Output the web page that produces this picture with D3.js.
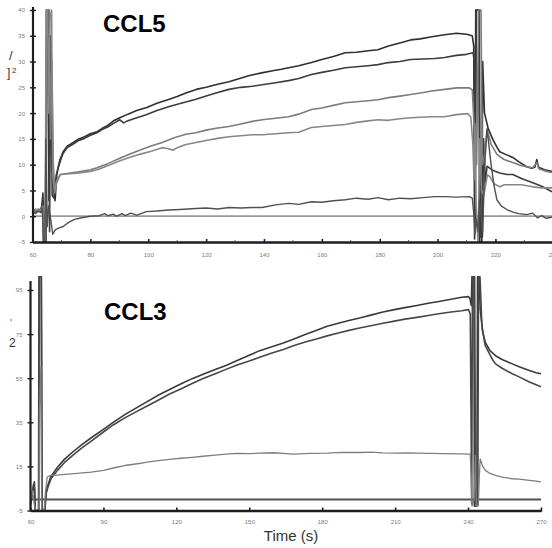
<!DOCTYPE html>
<html>
<head>
<meta charset="utf-8">
<script src="https://cdn.jsdelivr.net/npm/d3@7"></script>
<style>
  body { margin: 0; background: #fff; }
  svg { display: block; font-family: "Liberation Sans", Arial, sans-serif; }
</style>
</head>
<body>
<svg id="chart" width="552" height="548"></svg>
<script>
// ---- Axis ticks ----
const ccl5TimeTicks = [60, 80, 100, 120, 140, 160, 180, 200, 220, 240];
const ccl5MinorTicks = [70, 90, 110, 130, 150, 170, 190, 210, 230];
const ccl5RespTicks = [-5, 0, 5, 10, 15, 20, 25, 30, 35, 40];
const ccl3TimeTicks = [60, 90, 120, 150, 180, 210, 240, 270];
const ccl3RespTicks = [-5, 15, 35, 55, 75, 95];

// ---- CCL5 sensorgrams: [time (s), response] ----
const ccl5A = [[60,1.0],[61,1.2],[62,0.9],[63,1.5],[63.5,2.5],[63.8,-5],[64.6,-5],[64.9,40],[65.4,40],[65.7,3],[66.2,35],[66.6,12],[67.2,6],[67.8,3],[68.4,8],[68.9,9.6],[69.5,11],[70.6,12.5],[72,13.6],[74.1,14.3],[76,15],[78,15.4],[80,16],[82.3,16.4],[84,17],[86,17.6],[88,18.5],[90.2,19.1],[93,19.8],[96,20.5],[99.5,21.1],[103,21.9],[107.3,22.7],[110,23.2],[113,23.9],[116.6,24.6],[120,25],[124,25.6],[127.9,26.1],[131,26.6],[135,27.3],[139.2,27.8],[143,28.2],[146,28.5],[148.5,28.8],[152,29.2],[156.4,29.8],[160,30.4],[164,31],[168.1,31.7],[172,31.8],[176,32.1],[179.4,32.3],[183,33],[187,33.6],[190.7,34.2],[194,34.4],[198,34.8],[202.4,35.2],[206.5,35.5],[210,35.3],[212,35.0],[212.5,33],[212.8,-4.4],[213.2,40],[214.2,40],[214.6,-5],[215.3,-5],[215.6,30],[216.2,20.1],[217.5,17],[219.1,14.9],[220.5,13.4],[221.5,12.5],[223.5,12],[226,11.4],[228,10.6],[230.8,9.6],[232.5,9.3],[233.6,9.5],[234.3,11.0],[234.8,9.6],[235.3,9.4],[237,9.0],[239.4,8.7],[241,8.6]];

const ccl5B = [[60,0.6],[61,0.8],[62,1.1],[63,0.7],[63.6,4.5],[63.9,0],[64.3,-5],[64.7,-5],[65.0,40],[65.5,40],[65.9,-3],[66.3,34],[66.8,4],[67.4,3.5],[68.2,8],[68.9,9.4],[69.8,11],[70.6,12.2],[72,13.3],[74.1,14],[76,14.7],[78,15.1],[80,15.7],[82.3,16.2],[84,16.8],[86,17.3],[88,18.0],[90.2,18.7],[91.5,18.1],[92.5,18.4],[95,18.9],[99.3,19.7],[103,20.5],[107.3,21.3],[112,22.0],[116.5,22.7],[120,23.3],[124,24.0],[127.9,24.6],[132,25.0],[136,25.2],[139.4,25.5],[144,25.9],[148.5,26.3],[152,26.7],[156.4,27.5],[160,27.9],[164,28.3],[168.1,28.8],[172,29.0],[176,29.2],[179.4,29.4],[183,29.8],[187,30.0],[190.7,30.4],[195,30.5],[199,30.6],[202.4,30.8],[206.5,31.2],[210,31.4],[212.3,31.7],[212.7,30],[213.0,-3],[213.4,40],[214.4,40],[214.8,-4],[215.5,-4],[215.9,15],[216.5,6.5],[217.1,9.7],[219,8.9],[221.5,8.4],[224,8.1],[226,8.1],[229,7.3],[232.9,6.5],[236,5.8],[239.4,4.8],[241,4.6]];

const ccl5C = [[60,1.3],[61,1.0],[62,1.4],[63,1.2],[63.7,2],[64.0,-5],[64.5,-5],[64.8,40],[65.8,40],[66.2,15],[66.7,30],[67.2,10],[67.7,4.5],[68.4,6.5],[69.6,8.1],[72,8.3],[76,8.6],[80,9.0],[82.3,9.4],[86,10.2],[90,11.2],[93.5,12.0],[97,12.8],[101,13.6],[104.8,14.3],[109,15.2],[113,15.9],[116.5,16.2],[120,16.7],[124,17.1],[127.9,17.4],[132,17.9],[136,18.4],[139.4,18.7],[144,19.0],[148.5,19.3],[152,19.8],[156.4,20.7],[160,21],[164,21.5],[168.1,22.0],[172,22.2],[176,22.4],[179.4,22.6],[183,23],[187,23.3],[190.7,23.6],[194,23.9],[198,24.3],[202.4,24.6],[206.5,24.9],[211,24.9],[212,24.5],[212.6,18],[213.5,10],[214.2,40],[215.0,40],[215.5,10],[216.3,12],[217.1,16.8],[218.5,14],[220.5,12],[223,11],[226,10.4],[229,9.8],[232.9,9.4],[234.3,10.4],[235,9.2],[237,8.8],[239.4,8.5],[241,8.4]];

const ccl5D = [[60,0.8],[61,1.4],[62,1.0],[63,1.3],[63.5,0.5],[63.9,-5],[64.4,-5],[64.7,40],[65.2,40],[65.6,20],[66,38],[66.6,40],[67,8],[67.6,5],[68.4,7],[69.6,8.1],[72,8.2],[76,8.4],[80,8.7],[82.3,9.0],[86,9.8],[90,10.7],[93.5,11.4],[97,12],[101,12.6],[104.8,13.3],[107,13.1],[108.5,12.8],[110,13.3],[113,13.9],[116.5,14.3],[120,14.7],[124,15.1],[127.9,15.4],[132,15.6],[136,15.8],[139.4,15.8],[144,16.0],[148.5,16.2],[152,16.3],[156.4,17.2],[160,17.4],[164,17.6],[168.1,17.8],[172,18.2],[176,18.5],[179.4,18.7],[183,18.6],[187,18.9],[190.7,19.1],[194,19.2],[198,19.3],[202.4,19.3],[206.5,19.7],[210.5,19.9],[211.5,19.2],[212.2,14],[212.6,7],[212.9,18],[213.3,2],[214,-5],[214.6,15],[215.2,5],[216,4],[217.2,8],[218.1,7.7],[219.5,6.3],[221.5,5.7],[223,6.1],[226,6.1],[229,6.1],[232.9,5.7],[236,5.5],[239.4,5.5],[241,5.4]];

const ccl5E = [[60,1.1],[61,0.5],[62,1.0],[63,0.8],[63.4,1.5],[63.8,-5],[64.3,-5],[64.6,15],[65.1,-2],[65.6,2],[66.4,-1],[67.0,-3.5],[67.9,-2.6],[69,-2.3],[70.6,-2.0],[72.5,-1.2],[74.5,-0.6],[77,-0.3],[80,0],[83,0.1],[85,0.5],[86,0.1],[88,0.4],[89,0],[91,0.5],[92,0.1],[94,0.6],[96,0.2],[98,0.6],[99.3,0.9],[103,1.0],[107,1.2],[111,1.3],[116.5,1.5],[120,1.6],[124,1.4],[128,1.7],[132,1.6],[136,1.7],[139.4,1.7],[144,2.2],[148.5,2.5],[152,2.3],[156.4,2.8],[160,2.7],[164,3.0],[168.1,3.2],[172,3.5],[176,3.3],[179.4,3.6],[183,3.2],[187,3.5],[190.7,3.4],[195,3.6],[199,3.8],[202.4,3.8],[206.5,3.7],[211,3.8],[212,3.5],[212.6,0],[212.9,-3.5],[213.3,-0.5],[213.9,-3],[214.5,3],[215.2,-1],[215.6,-3],[216.3,10],[217.1,17],[218.5,10],[219.5,6],[220.5,3.2],[222,2],[223.9,1.3],[226,0.8],[228,0.5],[230.8,0.3],[232.9,0.6],[234.5,-0.3],[236,0.1],[237.5,-0.4],[239.4,-0.2],[241,-0.3]];

// ---- CCL3 sensorgrams: [time (s), response] ----
const ccl3A = [[60,-2],[60.6,2],[61.2,6],[61.6,8],[61.9,-5],[63.3,-5],[63.5,101],[64.4,101],[64.7,-5],[65.8,-5],[66.3,2],[66.9,5.7],[68.3,10.2],[71.1,14.6],[74,18.3],[78,22.1],[81,24.8],[85,28],[90,31.8],[94,35],[98.8,38.5],[103,41.2],[108,44.4],[112.7,47.4],[117,49.8],[122,52.5],[126.5,54.8],[131,56.8],[136,58.9],[140.4,60.8],[145,63],[150,65.4],[154.3,67.5],[159,69.2],[164,71],[168.1,72.7],[173,74.8],[178,76.9],[182,78.6],[187,80],[191,81.2],[195.8,82.4],[200,83.6],[205,85],[209.7,86.1],[214,87],[219,88],[223.6,89],[228,89.8],[233,90.8],[237.4,91.7],[240.2,92],[240.8,91],[241.3,88],[241.6,101],[242.4,101],[242.6,-3],[243.6,-3],[243.9,101],[244.5,101],[245,86.1],[246,76],[247.1,71.2],[249,67.5],[251.3,65.2],[254,63.5],[258.2,61.5],[261,60.2],[265.2,58.5],[268,57.5],[270,57]];

const ccl3B = [[60,-3],[60.7,3],[61.3,7],[61.7,5],[62.0,-5],[63.4,-5],[63.6,101],[64.5,101],[64.8,-5],[65.9,-5],[66.5,3],[67.3,6],[68.5,9.5],[71.1,13.2],[74,16.8],[78,20.6],[81,23.3],[85,26.5],[90,30.6],[94,33.8],[98.8,37],[103,39.5],[108,42.4],[112.7,45.1],[117,47.7],[122,50.2],[126.5,52.6],[131,54.9],[136,57],[140.4,59],[145,61],[150,62.8],[154.3,64.5],[159,66.3],[164,68],[168.1,69.7],[173,71.4],[178,72.9],[182,74.2],[187,75.6],[191,76.7],[195.8,77.9],[200,78.8],[205,79.9],[209.7,80.9],[214,81.8],[219,82.6],[223.6,83.4],[228,84.2],[233,85],[237.4,85.6],[240.2,86.1],[240.9,84],[241.5,-2],[241.8,101],[242.7,101],[243.1,-2],[244.0,-2],[244.3,101],[244.9,101],[245.7,78.6],[247,70],[248.5,66.7],[250,63.5],[251.3,61.5],[254,59.5],[258.2,57],[261,55.6],[265.2,53.3],[268,52],[270,51.1]];

const ccl3C = [[60,0],[60.8,4],[61.2,1],[61.8,-4],[62.2,-5],[63.5,-5],[63.7,40],[64.3,60],[64.6,-5],[65.6,-5],[66.2,4],[66.9,10.2],[68.3,10.9],[72,11.2],[78,11.7],[85,12.4],[90,13.2],[95,14.5],[98.8,15.4],[104,16.2],[108,16.9],[112.7,17.6],[118,18.3],[122,18.7],[126.5,19.1],[131,19.6],[136,20.1],[140.4,20.6],[145,20.9],[150,20.8],[154.3,21.0],[160,21.2],[168.1,20.6],[175,20.9],[182,21.0],[188,21.4],[195.8,21.3],[200,21.5],[205,21.1],[209.7,21.0],[215,21.1],[223.6,20.9],[230,20.8],[236,20.7],[240.9,20.6],[241.3,10],[241.6,-3],[242.5,0],[243.0,20],[243.4,-3],[244.2,-3],[244.6,10],[245,18.4],[246,15],[247.1,13.2],[249,11.8],[251.3,10.9],[254,10.1],[258.2,9.4],[261,9.2],[265.2,8.7],[268,8.3],[270,8]];

// ---- Line styles ----
const ccl5Styles = [
  { color: "#2f2f2f", width: 1.6 },
  { color: "#3c3c3c", width: 1.6 },
  { color: "#7c7c7c", width: 1.6 },
  { color: "#878787", width: 1.6 },
  { color: "#505050", width: 1.4 }
];
const ccl3Styles = [
  { color: "#3a3a3a", width: 1.6 },
  { color: "#474747", width: 1.6 },
  { color: "#7e7e7e", width: 1.3 }
];

const svg = d3.select("#chart");
const W = 552;

function drawPanel(o) {
  const g = svg.append("g");
  const x = d3.scaleLinear().domain(o.xDomain).range(o.xRange);
  const y = d3.scaleLinear().domain(o.yDomain).range(o.yRange);

  // reference line at zero response
  g.append("line")
    .attr("x1", x(o.xDomain[0])).attr("x2", Math.min(W, x(o.xDomain[1])))
    .attr("y1", y(0)).attr("y2", y(0))
    .attr("stroke", o.zeroColor).attr("stroke-width", o.zeroWidth);

  const line = d3.line().x(d => x(d[0])).y(d => y(d[1]));
  o.traces.forEach((tr, i) => {
    g.append("path").datum(tr)
      .attr("d", line)
      .attr("fill", "none")
      .attr("stroke", o.styles[i].color)
      .attr("stroke-width", o.styles[i].width)
      .attr("stroke-linejoin", "round");
  });

  // time axis
  const xa = g.append("g")
    .attr("transform", `translate(0,${y(o.yDomain[0])})`)
    .call(d3.axisBottom(x).tickValues(o.xTicks).tickSizeInner(3).tickSizeOuter(0)
      .tickPadding(o.xPad).tickFormat(d => String(d)));
  xa.select(".domain").attr("stroke", "#1e1e1e").attr("stroke-width", 2.4);
  xa.selectAll(".tick line").attr("y1", -3).attr("y2", 1).attr("stroke", "#1e1e1e").attr("stroke-width", 1.6);
  xa.selectAll(".tick text").attr("font-size", 6).attr("fill", "#7a7a7a");
  if (o.minor) {
    g.selectAll(".minor").data(o.minor).enter().append("line")
      .attr("x1", d => x(d)).attr("x2", d => x(d))
      .attr("y1", y(o.yDomain[0]) - 2).attr("y2", y(o.yDomain[0]))
      .attr("stroke", "#555").attr("stroke-width", 1);
  }

  // response axis
  const ya = g.append("g")
    .attr("transform", `translate(${x(o.xDomain[0]) + o.yAxisShift},0)`)
    .call(d3.axisLeft(y).tickValues(o.yTicks).tickSizeInner(3).tickSizeOuter(0)
      .tickPadding(o.yPad).tickFormat(d => String(d)));
  ya.select(".domain").attr("stroke", "#1e1e1e").attr("stroke-width", 2.2)
    .attr("d", `M0,${y(o.yDomain[0])}V${o.axisTop}`);
  ya.selectAll(".tick line").attr("x1", -3).attr("x2", 3).attr("stroke", "#1e1e1e").attr("stroke-width", 1.4);
  ya.selectAll(".tick text").attr("font-size", 6).attr("fill", "#7a7a7a");

  // panel title
  g.append("text").attr("x", o.titleX).attr("y", o.titleY)
    .attr("font-size", 24).attr("font-weight", "bold").attr("fill", "#000")
    .text(o.title);
}

drawPanel({
  title: "CCL5", titleX: 103, titleY: 32,
  xDomain: [60, 240], xRange: [32.5, 553.3],
  yDomain: [-5, 40], yRange: [242, 10],
  xTicks: ccl5TimeTicks, minor: ccl5MinorTicks, yTicks: ccl5RespTicks,
  xPad: 8, yPad: 5, yAxisShift: 0.5, axisTop: 7,
  traces: [ccl5A, ccl5B, ccl5C, ccl5D, ccl5E], styles: ccl5Styles,
  zeroColor: "#9a9a9a", zeroWidth: 1.8
});

drawPanel({
  title: "CCL3", titleX: 104, titleY: 320,
  xDomain: [60, 270], xRange: [30.5, 541],
  yDomain: [-5, 95], yRange: [510.5, 290],
  xTicks: ccl3TimeTicks, minor: null, yTicks: ccl3RespTicks,
  xPad: 6, yPad: 5, yAxisShift: 0, axisTop: 281,
  traces: [ccl3A, ccl3B, ccl3C], styles: ccl3Styles,
  zeroColor: "#505050", zeroWidth: 2.2
});

// x-axis title
svg.append("text").attr("x", 291).attr("y", 541).attr("text-anchor", "middle")
  .attr("font-size", 15).attr("fill", "#333").text("Time (s)");

// fragments of the response-unit labels at the left edge
svg.append("text").attr("x", 9).attr("y", 60).attr("font-size", 13).attr("fill", "#333").text("/");
svg.append("text").attr("x", 7).attr("y", 77).attr("font-size", 12).attr("fill", "#333").text("]");
svg.append("text").attr("x", 12).attr("y", 73).attr("font-size", 8).attr("fill", "#333").text("2");
svg.append("text").attr("x", 10).attr("y", 327).attr("font-size", 10).attr("fill", "#555").text("'");
svg.append("text").attr("x", 9).attr("y", 347).attr("font-size", 12).attr("fill", "#333").text("2");
</script>
</body>
</html>
